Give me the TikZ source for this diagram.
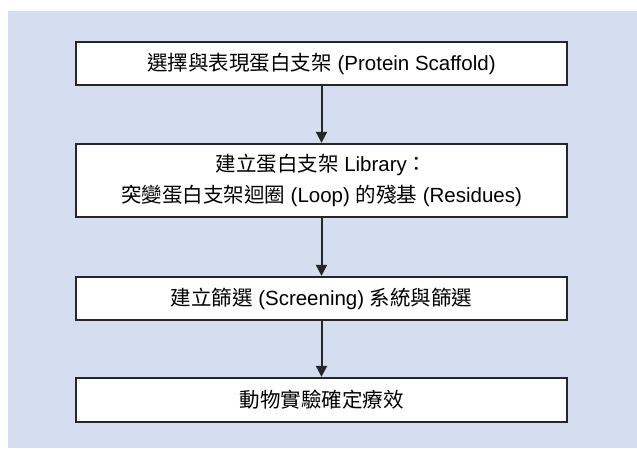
\documentclass[tikz,border=0pt]{standalone}
\usepackage{fontspec}
\setmainfont{Liberation Sans}
\newfontfamily\cjk{Noto Sans CJK TC}
\usetikzlibrary{arrows.meta}
\definecolor{bgblue}{HTML}{D4DEF0}
\definecolor{boxline}{HTML}{262626}
\tikzset{
  stepbox/.style={draw=boxline, line width=2.3pt, fill=white, minimum width=491pt, inner sep=0pt, align=center, font=\fontsize{20.5}{31}\selectfont},
  flow/.style={draw=boxline, line width=2pt, -{Triangle[length=11pt,width=11pt]}}
}
\begin{document}
\begin{tikzpicture}[x=1pt,y=1pt]
\useasboundingbox (0,0) rectangle (637,448);
\fill[bgblue] (8,0) rectangle (637,437);
\node[stepbox, minimum height=43pt] (b1) at (321.5,384.5) {{\cjk 選擇與表現蛋白支架} (Protein Scaffold)};
\node[stepbox, minimum height=73pt] (b2) at (321.5,267.5) {{\cjk 建立蛋白支架} Library{\cjk ：}\\{\cjk 突變蛋白支架迴圈} (Loop) {\cjk 的殘基} (Residues)};
\node[stepbox, minimum height=43pt] (b3) at (321.5,149.5) {{\cjk 建立篩選} (Screening) {\cjk 系統與篩選}};
\node[stepbox, minimum height=44pt] (b4) at (321.5,48) {{\cjk 動物實驗確定療效}};
\draw[flow] (b1) -- (b2);
\draw[flow] (b2) -- (b3);
\draw[flow] (b3) -- (b4);
\end{tikzpicture}
\end{document}
